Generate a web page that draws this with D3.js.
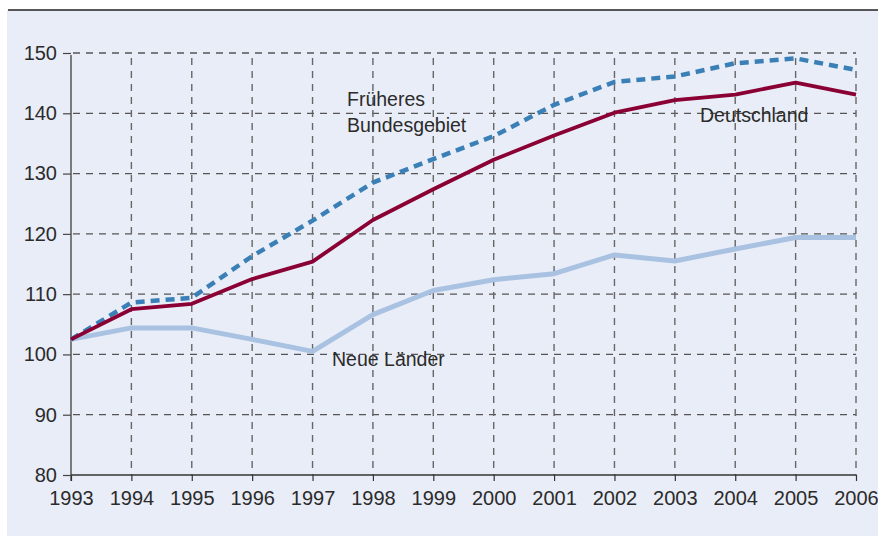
<!DOCTYPE html>
<html><head><meta charset="utf-8">
<script src="https://cdn.jsdelivr.net/npm/d3@7"></script>
<style>
html,body{margin:0;padding:0;background:#fff;}
svg{display:block;}
text{font-family:"Liberation Sans",Arial,sans-serif;fill:#2b2b2b;}
</style></head>
<body>
<svg id="c" width="878" height="536"></svg>
<script>
const years = [1993,1994,1995,1996,1997,1998,1999,2000,2001,2002,2003,2004,2005,2006];
const deutschland = [102.5,107.5,108.4,112.5,115.4,122.3,127.4,132.3,136.3,140.1,142.2,143.1,145.1,143.1];
const fruheres = [102.5,108.6,109.4,116.3,122.2,128.5,132.4,136.2,141.4,145.2,146.1,148.3,149.1,147.2];
const neueLaender = [102.5,104.4,104.4,102.5,100.5,106.6,110.6,112.4,113.4,116.5,115.5,117.5,119.4,119.4];
const yTicks = [80,90,100,110,120,130,140,150];

const svg = d3.select("#c");
svg.append("rect").attr("x",7).attr("y",10).attr("width",871).attr("height",526).attr("fill","#e9edf8");
svg.append("line").attr("x1",8).attr("x2",878).attr("y1",10).attr("y2",10).attr("stroke","#222").attr("stroke-width",1.5);

const x = d3.scaleLinear().domain([1993,2006]).range([71,856]);
const y = d3.scaleLinear().domain([80,150]).range([475,53]);

svg.append("g").selectAll("line").data(yTicks.filter(d=>d>80)).join("line")
  .attr("x1",71).attr("x2",856).attr("y1",d=>y(d)).attr("y2",d=>y(d))
  .attr("stroke","#555").attr("stroke-width",1.3).attr("stroke-dasharray","7,6").attr("stroke-dashoffset",-2);
svg.append("g").selectAll("line").data(years.filter(d=>d>1993)).join("line")
  .attr("x1",d=>x(d)).attr("x2",d=>x(d)).attr("y1",y(150)+5).attr("y2",y(80))
  .attr("stroke","#666").attr("stroke-width",1.4).attr("stroke-dasharray","7,6");

const yAxis = d3.axisLeft(y).tickValues(yTicks).tickSize(8).tickPadding(6);
const gy = svg.append("g").attr("transform","translate(71,0)").call(yAxis);
gy.select(".domain").remove();
gy.selectAll(".tick line").attr("stroke","#444").attr("stroke-width",1.2);
gy.selectAll("text").attr("font-size",20).attr("font-family","Liberation Sans, Arial, sans-serif").attr("fill","#2b2b2b");
svg.append("line").attr("x1",71).attr("x2",71).attr("y1",55).attr("y2",481).attr("stroke","#555").attr("stroke-width",1.5);

const xAxis = d3.axisBottom(x).tickValues(years).tickFormat(d3.format("d")).tickSize(6).tickPadding(10);
const gx = svg.append("g").attr("transform","translate(0,475)").call(xAxis);
gx.select(".domain").attr("stroke","#333").attr("stroke-width",1.3).attr("d","M71,0H856");
gx.selectAll(".tick line").attr("stroke","#333").attr("stroke-width",1.2);
gx.selectAll("text").attr("font-size",20).attr("font-family","Liberation Sans, Arial, sans-serif").attr("fill","#2b2b2b");

const line = d3.line().x((d,i)=>x(years[i])).y(d=>y(d));
svg.append("path").datum(neueLaender).attr("d",line).attr("fill","none")
  .attr("stroke","#a9c2e1").attr("stroke-width",5).attr("stroke-linejoin","round");
svg.append("path").datum(fruheres).attr("d",line).attr("fill","none")
  .attr("stroke","#3a80b7").attr("stroke-width",4.5).attr("stroke-dasharray","9,6");
svg.append("path").datum(deutschland).attr("d",line).attr("fill","none")
  .attr("stroke","#8a0034").attr("stroke-width",3.8).attr("stroke-linejoin","round");

const lab = svg.append("g").attr("font-size",19.5);
lab.append("text").attr("x",347).attr("y",106).text("Früheres");
lab.append("text").attr("x",347).attr("y",132).text("Bundesgebiet");
lab.append("text").attr("x",700).attr("y",122).text("Deutschland");
lab.append("text").attr("x",332).attr("y",366).text("Neue Länder");
</script>
</body></html>
